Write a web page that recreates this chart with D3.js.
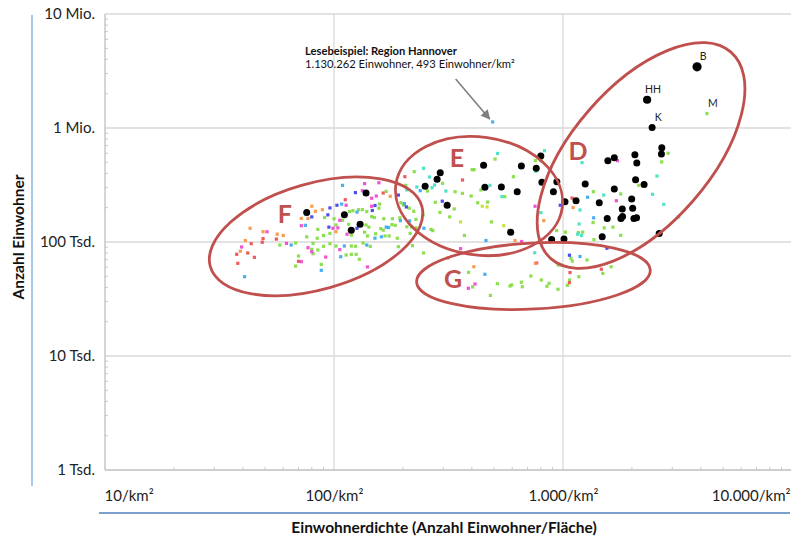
<!DOCTYPE html>
<html lang="de">
<head>
  <meta charset="UTF-8"/>
  <title>Einwohner vs. Einwohnerdichte</title>
  <style>
    *{margin:0;padding:0}
    body{background:#fff;font-family:Lato,"Open Sans",sans-serif}
    svg{display:block}
    .tick text{font-family:Lato,sans-serif;font-size:15px;fill:#222}
  </style>
</head>
<body>
<script src="https://d3js.org/d3.v7.min.js"></script>
<script>
  // axis ticks
  const yTicks = [1e3, 1e4, 1e5, 1e6, 1e7];
  const yTickLabels = ['1 Tsd.', '10 Tsd.', '100 Tsd.', '1 Mio.', '10 Mio.'];
  const xTicks = [10, 100, 1000, 10000];
  const xTickLabels = ['10/km²', '100/km²', '1.000/km²', '10.000/km²'];

  // [Einwohner/km², Einwohner]
  const cities = [
    [3850,3440000],[2330,1770000],[2450,1010000],[2700,670000],[2690,590000],[1570,517000],[1675,548000],
    [2060,583000],[2100,493000],[2075,352000],[2260,320000],[1250,323000],[940,338000],[908,276000],
    [1675,292000],[1140,230000],[1440,221000],[1995,238000],[2015,198000],[1815,195000],[1020,226000],
    [1820,167000],[1790,161000],[1560,161000],[2040,161000],[2095,163000],[1483,111000],[2630,119000],
    [892,105000],[1010,106000],[800,568000],[658,464000],[764,443000],[538,304000],[631,276000],
    [809,334000],[591,122000],[450,471000],[291,405000],[282,355000],[250,308000],[456,302000],
    [312,210000],[138,269000],[76,181000],[111,173000],[130,143000],[119,127000]
  ];
  const cityLabels = [['B',3850,3440000],['HH',2330,1770000],['K',2450,1010000],['M',4250,1340000]];

  const orange = [[80,206000],[83,186000],[72,161000],[77,161000],[43,132000],[49,123000],[56.5,117000],
    [60,114000],[41,103000],[39,83000],[89,192000],[102,123000],[176,252000],[315,72400],[408,60700],
    [824,154000],[617,103000],[1107,201000],[757,65000]];
  const red = [[49,107000],[56,106000],[43.5,96700],[48.6,99400],[37.6,78000],[42,80100],[44.9,73400],
    [38,65000],[70,67700],[112,235000],[164,269000],[204,374000],[364,350000],[1096,243000],
    [1073,54000],[1066,44000],[1470,57700]];
  const pink = [[72,139000],[51,123000],[62,97300],[39.5,90400],[77,89100],[80,82200],[72,67200],
    [136,325000],[157,331000],[133,282000],[153,253000],[146,242000],[113,210000],[146,206000],
    [106,155000],[104,133000],[99,132000],[114,117000],[106,85700],[92,73800],[140,60400],[357,87400],
    [755,206000],[768,65500],[660,101000],[1730,517000],[1710,230000],[413,42800],[386,39300]];
  const blue = [[80,166000],[124,271000],[191,258000],[96,199000],[151,209000],[147,189000],[94,173000],
    [95,135000],[126,132000],[103,210000],[297,228000],[973,210000],[1067,76600],[1556,88100],[207,203000]];
  const lightBlue = [[75,140000],[65,94100],[40.7,49600],[109,314000],[108,215000],[203,217000],
    [126,183000],[195,154000],[169,135000],[173,134000],[161,111000],[151,108000],[139,94100],
    [111,92200],[107,74300],[88,56400],[214,153000],[238,282000],[247,132000],[461,103000],
    [493,1130262],[1280,247000],[1361,163000],[1186,74600],[456,52100]];
  const cyan = [[208,286000],[518,598000],[246,443000],[261,372000],[230,304000],[275,316000],
    [268,299000],[480,314000],[308,280000],[541,250000],[762,418000],[830,632000],[801,181000],
    [752,80500],[1211,497000],[1506,258000],[2572,379000],[2460,262000],[2753,214000],[1186,191000],
    [1175,144000],[3200,166000],[1159,117000],[1205,114000]];
  const green = [
    [76,111000],[85,129000],[58,94100],[68,98000],[81,97300],[81,78900],[85,85100],[70,75400],[68,61500],
    [169,278000],[158,215000],[117,185000],[121,188000],[128,192000],[133,192000],[139,185000],[157,198000],
    [91,164000],[100,160000],[109,155000],[146,167000],[150,164000],[165,160000],[180,160000],[194,163000],
    [116,143000],[102,141000],[138,141000],[142,135000],[136,122000],[140,113000],[179,142000],[185,140000],
    [160,131000],[164,127000],[152,118000],[167,113000],[174,113000],[189,108000],[119,115000],[96,119000],
    [90,114000],[84.5,108000],[191,91000],[144,91700],[134,98000],[119,92200],[124,91700],[102,92200],
    [96,96700],[90,91700],[80,86300],[113,76900],[119,78000],[125,78000],[129,70500],[88,63600],
    [213,198000],[218,136000],[220,92800],
    [505,534000],[401,431000],[409,431000],[224,414000],[298,327000],[206,314000],[256,280000],[338,276000],
    [364,267000],[438,286000],[277,223000],[196,221000],[424,221000],[469,224000],[397,253000],[335,195000],
    [201,211000],[223,186000],[290,182000],[245,173000],[228,158000],[320,166000],[487,150000],[208,136000],
    [228,133000],[265,129000],[270,126000],[371,114000],[215,119000],[246,80100],[607,374000],[757,517000],
    [801,517000],[557,250000],[938,126000],[953,62800],[980,62800],[1025,122000],
    [4250,1340000],[2877,600000],[2697,504000],[2142,314000],[1358,276000],[1786,264000],[1353,148000],
    [1167,121000],[1219,122000],[1514,133000],[1652,135000],[1786,114500],[1365,105000],[1273,69500],
    [1622,60700],[1172,49600],[1083,72000],[1097,68000],[1069,46400],[1044,41700],[1493,53100],[951,38500],
    [387,54200],[517,43100],[403,40300],[482,34000],[587,41100],[597,42000],[658,44400],[664,40500],
    [724,50300],[804,46400],[869,43400],[851,40900]];
  const yellowGreen = [[444,206000],[466,203000],[357,150000],[551,139000]];

  // cluster ellipses: centre / letter position in data units
  const clusters = [
    {name:'F', c:[83.5,112000], lab:[61,180000],   rx:110, ry:53, rot:-16},
    {name:'E', c:[430,253000],  lab:[344,557000],  rx:84,  ry:59, rot:8},
    {name:'D', c:[2192,574000], lab:[1163,641000], rx:137, ry:69, rot:-49},
    {name:'G', c:[743,50300],   lab:[331,48300],   rx:117, ry:33, rot:-3}
  ];

  const W = 791, H = 536;
  const svg = d3.select('body').append('svg').attr('width', W).attr('height', H);

  const x = d3.scaleLog().domain([10, 10000]).range([105, 792]);
  const y = d3.scaleLog().domain([1e3, 1e7]).range([470, 14]);
  const [x0, x1] = x.range(), [y0, y1] = y.range();

  // grid
  svg.append('g').selectAll('line').data(yTicks.slice(1)).join('line')
    .attr('x1', x0).attr('x2', x1).attr('y1', d => y(d)).attr('y2', d => y(d))
    .attr('stroke', '#d9d9d9').attr('stroke-width', 1.3);
  svg.append('g').selectAll('line').data(xTicks.slice(1)).join('line')
    .attr('x1', d => x(d)).attr('x2', d => x(d)).attr('y1', y0).attr('y2', y1)
    .attr('stroke', '#d9d9d9').attr('stroke-width', 1.3);

  // minor ticks
  const minors = dom => {
    const out = [];
    for (let v = dom[0]; v < dom[1]; v *= 10) for (let k = 2; k < 10; k++) out.push(v * k);
    return out;
  };
  svg.append('g').selectAll('line').data(minors(y.domain())).join('line')
    .attr('x1', x0).attr('x2', x0 + 3).attr('y1', d => y(d)).attr('y2', d => y(d))
    .attr('stroke', '#c8c8c8');
  svg.append('g').selectAll('line').data(minors(x.domain())).join('line')
    .attr('x1', d => x(d)).attr('x2', d => x(d)).attr('y1', y0).attr('y2', y0 - 3)
    .attr('stroke', '#c8c8c8');

  // axis lines
  svg.append('line').attr('x1', x0).attr('x2', x0).attr('y1', y0).attr('y2', y1)
    .attr('stroke', '#bfbfbf').attr('stroke-width', 1.3);
  svg.append('line').attr('x1', x0).attr('x2', x1).attr('y1', y0).attr('y2', y0)
    .attr('stroke', '#bfbfbf').attr('stroke-width', 1.3);

  // tick labels
  const yAxis = svg.append('g').attr('transform', `translate(${x0},0)`)
    .call(d3.axisLeft(y).tickValues(yTicks).tickFormat((d, i) => yTickLabels[i]).tickSize(0).tickPadding(10));
  yAxis.select('.domain').remove();

  const xAxis = svg.append('g').attr('transform', `translate(0,${y0})`)
    .call(d3.axisBottom(x).tickValues(xTicks).tickFormat((d, i) => xTickLabels[i]).tickSize(0).tickPadding(20));
  xAxis.select('.domain').remove();
  xAxis.selectAll('.tick text').each(function (d, i) {
    if (i === 0) d3.select(this).attr('text-anchor', 'start').attr('x', -1);
    if (i === xTicks.length - 1) d3.select(this).attr('text-anchor', 'end').attr('x', -2);
  });

  // blue frame lines
  svg.append('line').attr('x1', 32).attr('x2', 32).attr('y1', 15).attr('y2', 486)
    .attr('stroke', '#8db3e2').attr('stroke-width', 1.5);
  svg.append('line').attr('x1', 99).attr('x2', 790).attr('y1', 513).attr('y2', 513)
    .attr('stroke', '#4f81bd').attr('stroke-width', 1.3);

  // axis titles
  svg.append('text').attr('transform', 'translate(18,237) rotate(-90)')
    .attr('text-anchor', 'middle').attr('dominant-baseline', 'central')
    .style('font-weight', 700).style('font-size', '15.5px').attr('fill', '#111')
    .text('Anzahl Einwohner');
  svg.append('text').attr('x', 444).attr('y', 533).attr('text-anchor', 'middle')
    .style('font-weight', 700).style('font-size', '15.5px').attr('fill', '#111')
    .text('Einwohnerdichte (Anzahl Einwohner/Fläche)');

  // small points
  const series = [
    {data: green, color: '#7fdc3c'},
    {data: yellowGreen, color: '#c9dc2c'},
    {data: cyan, color: '#3de0c2'},
    {data: lightBlue, color: '#35a6f2'},
    {data: blue, color: '#3a3af0'},
    {data: pink, color: '#f23fcf'},
    {data: orange, color: '#f7913c'},
    {data: red, color: '#f0484a'}
  ];
  series.forEach(s => {
    svg.append('g').selectAll('rect').data(s.data).join('rect')
      .attr('x', d => x(d[0]) - 1.6).attr('y', d => y(d[1]) - 1.6)
      .attr('width', 3.2).attr('height', 3.2)
      .attr('fill', s.color).attr('opacity', 0.9);
  });

  // large cities
  svg.append('g').selectAll('circle').data(cities).join('circle')
    .attr('cx', d => x(d[0])).attr('cy', d => y(d[1]))
    .attr('r', d => d[1] > 3e6 ? 4.6 : d[1] > 1.5e6 ? 4.1 : 3.5)
    .attr('fill', '#000');

  svg.append('g').selectAll('text').data(cityLabels).join('text')
    .attr('x', d => x(d[1]) + 6).attr('y', d => y(d[2]) - 7)
    .attr('text-anchor', 'middle')
    .style('font-size', '10.5px').attr('fill', '#222')
    .text(d => d[0]);

  // cluster ellipses
  const cg = svg.append('g');
  clusters.forEach(c => {
    cg.append('ellipse')
      .attr('transform', `translate(${x(c.c[0])},${y(c.c[1])}) rotate(${c.rot})`)
      .attr('rx', c.rx).attr('ry', c.ry)
      .attr('fill', 'none').attr('stroke', '#c0504d').attr('stroke-width', 2.8);
    cg.append('text')
      .attr('x', x(c.lab[0])).attr('y', y(c.lab[1]))
      .attr('text-anchor', 'middle').attr('dominant-baseline', 'central')
      .style('font-size', '25px').style('font-weight', 700).attr('fill', '#c0504d')
      .text(c.name);
  });

  // reading example
  svg.append('defs').append('marker').attr('id', 'arr')
    .attr('viewBox', '0 0 10 10').attr('refX', 9).attr('refY', 5)
    .attr('markerWidth', 6).attr('markerHeight', 6).attr('orient', 'auto')
    .append('path').attr('d', 'M0,0L10,5L0,10z').attr('fill', '#7f7f7f');

  const hx = x(493), hy = y(1130262);
  svg.append('line').attr('x1', hx - 37).attr('y1', hy - 43).attr('x2', hx - 3).attr('y2', hy - 3)
    .attr('stroke', '#7f7f7f').attr('stroke-width', 1.6).attr('marker-end', 'url(#arr)');

  const note = svg.append('text').attr('x', 305).attr('y', 55).style('font-size', '11.2px').attr('fill', '#111');
  note.append('tspan').style('font-weight', 700).text('Lesebeispiel: Region Hannover');
  note.append('tspan').attr('x', 305).attr('dy', 12.5).text('1.130.262 Einwohner, 493 Einwohner/km²');
</script>
</body>
</html>
